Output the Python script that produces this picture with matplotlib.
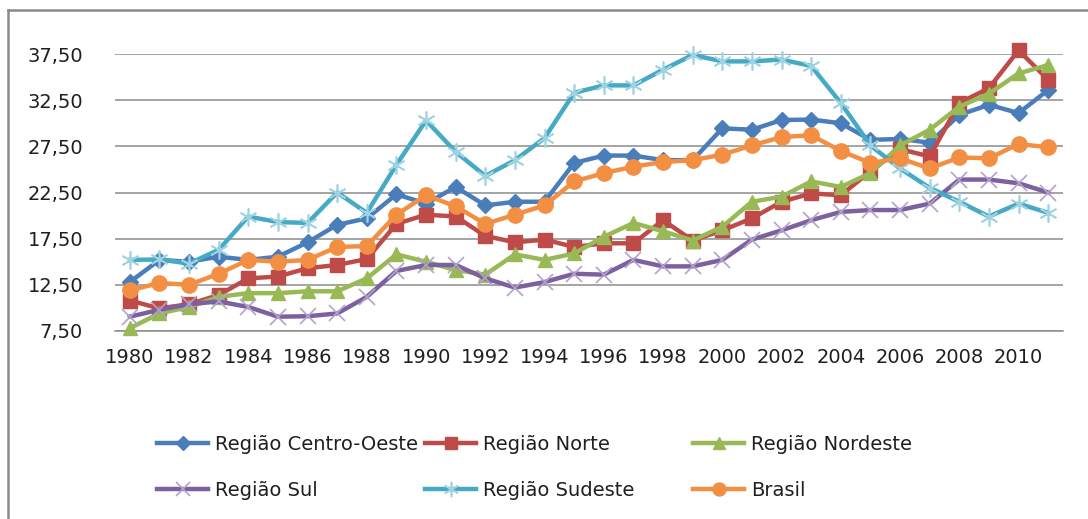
import matplotlib
matplotlib.use("Agg")
import matplotlib.pyplot as plt
from matplotlib.lines import Line2D
from matplotlib.ticker import FuncFormatter

YEARS = list(range(1980, 2012))

CENTRO_OESTE = [12.8, 15.2, 15.0, 15.55, 15.2, 15.55, 17.1, 19.0, 19.7, 22.3, 21.3, 23.1, 21.1, 21.5, 21.5, 25.7,
                26.5, 26.5, 26.0, 26.0, 29.45, 29.3, 30.35, 30.4, 30.0, 28.2, 28.3, 27.9, 30.9, 32.0, 31.1, 33.6]
NORTE = [10.8, 9.95, 10.4, 11.4, 13.2, 13.4, 14.3, 14.65, 15.3, 19.1, 20.1, 19.9, 17.8, 17.1, 17.4, 16.6,
         17.0, 17.0, 19.5, 17.3, 18.4, 19.7, 21.5, 22.4, 22.2, 24.8, 27.2, 26.4, 32.2, 33.8, 37.9, 34.7]
NORDESTE = [7.8, 9.4, 10.1, 11.2, 11.6, 11.6, 11.8, 11.8, 13.2, 15.8, 15.0, 14.1, 13.6, 15.8, 15.2, 15.9,
            17.7, 19.2, 18.3, 17.3, 18.8, 21.5, 22.05, 23.7, 23.1, 24.6, 27.6, 29.3, 31.8, 33.2, 35.4, 36.3]
SUL = [9.05, 9.8, 10.4, 10.7, 10.1, 9.05, 9.1, 9.4, 11.2, 14.0, 14.65, 14.65, 13.2, 12.2, 12.8, 13.7,
       13.6, 15.2, 14.5, 14.5, 15.2, 17.4, 18.4, 19.5, 20.4, 20.6, 20.6, 21.3, 23.9, 23.9, 23.5, 22.5]
SUDESTE = [15.2, 15.25, 14.8, 16.3, 19.9, 19.3, 19.2, 22.5, 20.3, 25.5, 30.3, 26.9, 24.3, 26.0, 28.4, 33.3,
           34.1, 34.1, 35.8, 37.4, 36.7, 36.7, 36.9, 36.2, 32.2, 27.6, 25.1, 23.0, 21.5, 19.9, 21.3, 20.3]
BRASIL = [11.9, 12.7, 12.5, 13.7, 15.2, 15.0, 15.2, 16.6, 16.7, 20.1, 22.2, 21.0, 19.1, 20.1, 21.1, 23.7,
          24.6, 25.3, 25.8, 26.0, 26.6, 27.6, 28.5, 28.7, 27.0, 25.7, 26.2, 25.1, 26.3, 26.2, 27.75, 27.4]

Y_TICKS = [7.5, 12.5, 17.5, 22.5, 27.5, 32.5, 37.5]
X_TICKS = list(range(1980, 2011, 2))

W, H = 1088, 519
TEXT = "#1f1f1f"
GRID = "#8c8c8c"
FS = 14

plt.rcParams["font.family"] = ["DejaVu Sans"]

fig = plt.figure(figsize=(W / 100, H / 100), dpi=100)
fig.patch.set_facecolor("white")
ax = fig.add_axes([115 / W, 1 - 331 / H, (1063 - 115) / W, (331 - 54) / H])

series = [
    ("Região Centro-Oeste", CENTRO_OESTE, "#4a7ebb", dict(marker="D", ms=8)),
    ("Região Norte", NORTE, "#be4b48", dict(marker="s", ms=10.5)),
    ("Região Nordeste", NORDESTE, "#98b954", dict(marker="^", ms=10)),
    ("Região Sul", SUL, "#7d60a0", dict(marker="x", ms=12, mew=1.2, mec="#b3a3cc")),
    ("Região Sudeste", SUDESTE, "#46aac5", dict(marker=(6, 2, 0), ms=13, mew=1.2, mec="#9fd3e2")),
    ("Brasil", BRASIL, "#f38f43", dict(marker="o", ms=11)),
]

handles = {}
for i, (name, values, color, mk) in enumerate(series):
    style = dict(mfc=color, mec=color)
    style.update(mk)
    (line,) = ax.plot(YEARS, values, color=color, lw=3.2, label=name, zorder=3 + i, clip_on=False, **style)
    handles[name] = line

ax.set_xlim(1979.5, 2011.5)
ax.set_ylim(7.5, 37.5)
ax.set_yticks(Y_TICKS)
ax.yaxis.set_major_formatter(FuncFormatter(lambda v, _: f"{v:.2f}".replace(".", ",")))
ax.set_xticks(X_TICKS)
ax.set_xticklabels([str(y) for y in X_TICKS])
ax.tick_params(axis="y", length=0, pad=23, labelsize=FS, labelcolor=TEXT)
ax.tick_params(axis="x", length=0, pad=12, labelsize=FS, labelcolor=TEXT)
ax.grid(axis="y", color=GRID, lw=1.1)
ax.set_axisbelow(True)
for side in ["top", "right", "left"]:
    ax.spines[side].set_visible(False)
ax.spines["bottom"].set_color(GRID)
ax.spines["bottom"].set_linewidth(1.1)

# legend, three columns placed where the reference has them
columns = [
    (157, ["Região Centro-Oeste", "Região Sul"]),
    (425, ["Região Norte", "Região Sudeste"]),
    (693, ["Região Nordeste", "Brasil"]),
]
for x0, names in columns:
    fig.legend(
        [handles[n] for n in names], names,
        loc="upper left", bbox_to_anchor=(x0 / W, 1 - 435 / H),
        frameon=False, borderpad=0, borderaxespad=0, fontsize=FS,
        handlelength=51 / 19.4, handletextpad=7 / 19.4, labelspacing=1.4,
        labelcolor=TEXT, markerscale=0.85,
    )

# outer chart frame (top and left edges visible)
fig.add_artist(Line2D([8 / W, 8 / W], [1 - 10 / H, 0], color="#8a8a8a", lw=1.8))
fig.add_artist(Line2D([8 / W, 1], [1 - 10 / H, 1 - 10 / H], color="#8a8a8a", lw=1.8))

fig.savefig("out.png", dpi=100)
